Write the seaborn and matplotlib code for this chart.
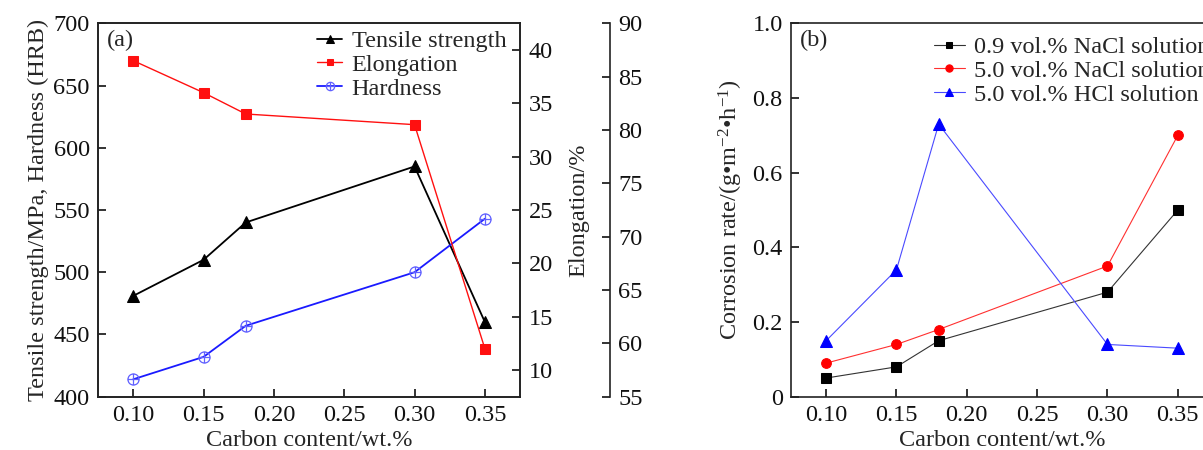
import matplotlib
matplotlib.use("Agg")
import matplotlib.pyplot as plt
import pandas as pd
import seaborn as sns
from matplotlib.path import Path

# Carbon content of the steels (wt.%)
carbon = [0.10, 0.15, 0.18, 0.30, 0.35]

# Mechanical properties
tensile_strength = [481, 510, 540, 585, 460]   # MPa
elongation = [39.0, 36.0, 34.0, 33.0, 12.0]    # %
hardness = [414, 432, 457, 500, 543]           # HRB

# Corrosion rates, g·m^-2·h^-1
nacl_09 = [0.05, 0.08, 0.15, 0.28, 0.50]
nacl_50 = [0.09, 0.14, 0.18, 0.35, 0.70]
hcl_50 = [0.15, 0.34, 0.73, 0.14, 0.13]

x_ticks = [0.10, 0.15, 0.20, 0.25, 0.30, 0.35]
x_tick_labels = ["0.10", "0.15", "0.20", "0.25", "0.30", "0.35"]
corr_ticks = [0, 0.2, 0.4, 0.6, 0.8, 1.0]
corr_tick_labels = ["0", "0.2", "0.4", "0.6", "0.8", "1.0"]

sns.set_theme(style="ticks")
plt.rcParams["font.family"] = ["Liberation Serif", "DejaVu Serif"]
plt.rcParams["mathtext.fontset"] = "custom"
plt.rcParams["mathtext.rm"] = "Liberation Serif"
plt.rcParams["mathtext.it"] = "Liberation Serif:italic"
plt.rcParams["axes.linewidth"] = 1.2
plt.rcParams["axes.edgecolor"] = "#222222"

FS = 17.5

mech = pd.DataFrame({"carbon": carbon, "tensile": tensile_strength,
                     "elong": elongation, "hard": hardness})
corr = pd.DataFrame({"carbon": carbon, "nacl09": nacl_09,
                     "nacl50": nacl_50, "hcl50": hcl_50})

# circle with a cross inside, for the hardness series
oplus = Path.make_compound_path(
    Path.unit_circle(),
    Path([(-1, 0), (1, 0)], [Path.MOVETO, Path.LINETO]),
    Path([(0, -1), (0, 1)], [Path.MOVETO, Path.LINETO]),
)

fig = plt.figure(figsize=(12.03, 4.5), dpi=100)
ax_a = fig.add_axes([0.0815, 0.1184, 0.3508, 0.8298])
ax_b = fig.add_axes([0.6575, 0.1184, 0.3508, 0.8298])


def style_ticks(ax, **kw):
    ax.tick_params(direction="in", length=5.5, width=1.2, labelsize=FS,
                   colors="#111111", pad=6, **kw)


# ---- panel (a): mechanical properties ----
ax_e = ax_a.twinx()
ax_f = ax_a.twinx()

sns.lineplot(data=mech, x="carbon", y="tensile", ax=ax_a, color="black",
             marker="^", markersize=8, markeredgecolor="black", linewidth=1.3,
             label="Tensile strength", errorbar=None)
sns.lineplot(data=mech, x="carbon", y="hard", ax=ax_a, color="#1a1aff",
             marker=oplus, markersize=8, markerfacecolor="none",
             markeredgecolor="#6060ff", markeredgewidth=0.9, linewidth=1.3,
             label="Hardness", errorbar=None)
sns.lineplot(data=mech, x="carbon", y="elong", ax=ax_e, color="#ff1010",
             marker="s", markersize=6.5, markeredgecolor="#ff1010",
             linewidth=1.0, label="Elongation", errorbar=None)

for ax in (ax_a, ax_e, ax_f):
    if ax.get_legend() is not None:
        ax.get_legend().remove()

ax_a.set_xlim(0.075, 0.375)
ax_a.set_xticks(x_ticks)
ax_a.set_xticklabels(x_tick_labels)
ax_a.set_ylim(400, 700)
ax_a.set_yticks(range(400, 701, 50))
ax_a.set_xlabel("Carbon content/wt.%", fontsize=FS, labelpad=3)
ax_a.set_ylabel("Tensile strength/MPa, Hardness (HRB)", fontsize=FS, labelpad=3)
style_ticks(ax_a)

ax_e.set_ylim(7.5, 42.5)
ax_e.set_yticks(range(10, 41, 5))
ax_e.set_ylabel("Elongation/%", fontsize=FS, labelpad=11)
style_ticks(ax_e)

ax_f.set_ylim(55, 90)
ax_f.set_yticks(range(55, 91, 5))
ax_f.spines["right"].set_position(("outward", 64.8))
for side in ("top", "bottom", "left"):
    ax_f.spines[side].set_visible(False)
ax_f.set_ylabel("")
style_ticks(ax_f)

h1, l1 = ax_a.get_legend_handles_labels()
h2, l2 = ax_e.get_legend_handles_labels()
order = {"Tensile strength": 0, "Elongation": 1, "Hardness": 2}
pairs = sorted(zip(h1 + h2, l1 + l2), key=lambda p: order[p[1]])
ax_f.legend([p[0] for p in pairs], [p[1] for p in pairs], loc="upper left",
            bbox_to_anchor=(0.52, 0.982), frameon=False, fontsize=FS,
            handlelength=1.0, handletextpad=0.4, labelspacing=0.08,
            borderpad=0, borderaxespad=0, markerscale=0.75)

ax_a.text(0.02, 0.955, "(a)", transform=ax_a.transAxes, fontsize=FS,
          ha="left", va="center")

# ---- panel (b): corrosion rate ----
sns.lineplot(data=corr, x="carbon", y="nacl09", ax=ax_b, color="#333333",
             marker="s", markersize=6.5, markerfacecolor="black",
             markeredgecolor="black", linewidth=0.8,
             label="0.9 vol.% NaCl solution", errorbar=None)
sns.lineplot(data=corr, x="carbon", y="nacl50", ax=ax_b, color="#ff3030",
             marker="o", markersize=7, markerfacecolor="red",
             markeredgecolor="red", linewidth=0.8,
             label="5.0 vol.% NaCl solution", errorbar=None)
sns.lineplot(data=corr, x="carbon", y="hcl50", ax=ax_b, color="#4a4aff",
             marker="^", markersize=8, markerfacecolor="blue",
             markeredgecolor="blue", linewidth=0.8,
             label="5.0 vol.% HCl solution", errorbar=None)

ax_b.set_xlim(0.075, 0.375)
ax_b.set_xticks(x_ticks)
ax_b.set_xticklabels(x_tick_labels)
ax_b.set_ylim(0, 1.0)
ax_b.set_yticks(corr_ticks)
ax_b.set_yticklabels(corr_tick_labels)
ax_b.set_xlabel("Carbon content/wt.%", fontsize=FS, labelpad=3)
ax_b.set_ylabel("Corrosion rate/(g\u2022m$^{-2}$\u2022h$^{-1}$)", fontsize=FS,
                labelpad=5)
style_ticks(ax_b, right=False, top=False)
ax_b.legend(loc="upper left", bbox_to_anchor=(0.338, 0.966), frameon=False,
            fontsize=FS, handlelength=1.3, handletextpad=0.35,
            labelspacing=0.08, borderpad=0, borderaxespad=0, markerscale=0.75)
ax_b.text(0.02, 0.955, "(b)", transform=ax_b.transAxes, fontsize=FS,
          ha="left", va="center")

fig.savefig("out.png", dpi=100)
